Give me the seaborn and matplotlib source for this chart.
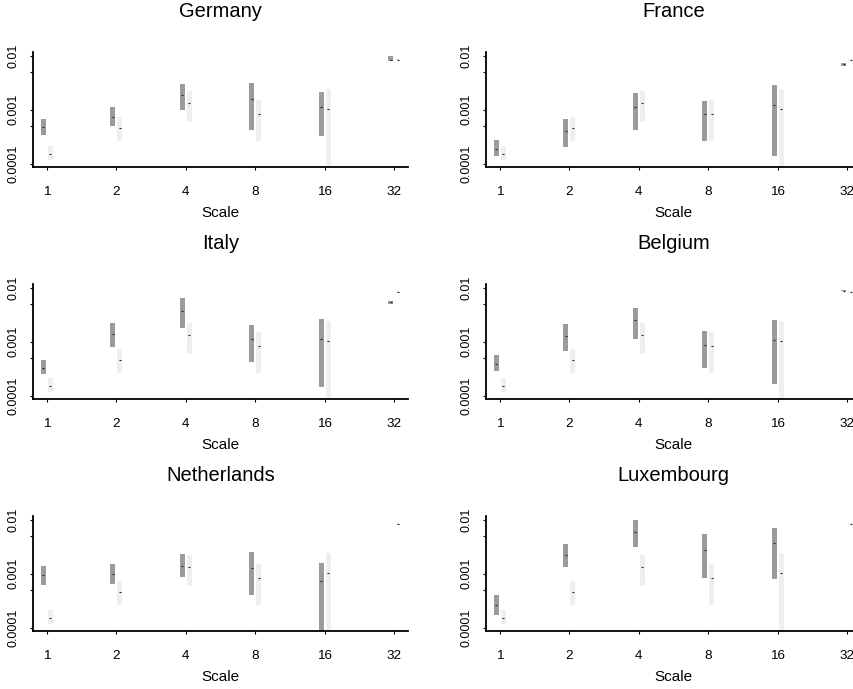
import numpy as np
import pandas as pd
import matplotlib
matplotlib.use("Agg")
import matplotlib.pyplot as plt
from matplotlib.ticker import FixedLocator, NullFormatter
import seaborn as sns

### data (log scale, per scale: low, high, middle)

scales = ["1", "2", "4", "8", "16", "32"]
countries = ["Germany", "France", "Italy", "Belgium", "Netherlands", "Luxembourg"]

germany_lo = [0.00034, 0.0005, 0.00099, 0.00043, 0.00033, 0.0080]
germany_hi = [0.00068, 0.00115, 0.0030, 0.0031, 0.0021, 0.0100]
germany_mid = [0.00047, 0.00075, 0.00186, 0.00161, 0.00111, 0.0086]

france_lo = [0.000137, 0.000204, 0.00043, 0.00026, 0.000139, 0.0066]
france_hi = [0.00027, 0.00067, 0.00208, 0.00148, 0.00285, 0.0073]
france_mid = [0.00019, 0.00041, 0.00115, 0.00082, 0.00125, 0.0070]

italy_lo = [0.00025, 0.0008, 0.00178, 0.00043, 0.000145, 0.0050]
italy_hi = [0.00045, 0.00227, 0.0066, 0.00206, 0.00269, 0.0058]
italy_mid = [0.00033, 0.0014, 0.0037, 0.00113, 0.00113, 0.0054]

belgium_lo = [0.00029, 0.00068, 0.00115, 0.00032, 0.000165, 0.0087]
belgium_hi = [0.00057, 0.00211, 0.0043, 0.00159, 0.00258, 0.0091]
belgium_mid = [0.00039, 0.00128, 0.00255, 0.00087, 0.00108, 0.0089]

netherlands_lo = [0.00062, 0.00065, 0.00087, 0.00041, 0.00007, np.nan]
netherlands_hi = [0.00138, 0.00151, 0.00231, 0.00252, 0.00157, np.nan]
netherlands_mid = [0.00093, 0.00098, 0.00142, 0.0013, 0.00075, np.nan]

luxembourg_lo = [0.00017, 0.00134, 0.0031, 0.00082, 0.00079, np.nan]
luxembourg_hi = [0.00041, 0.0036, 0.0100, 0.0056, 0.0071, np.nan]
luxembourg_mid = [0.000265, 0.00228, 0.0059, 0.0028, 0.0037, np.nan]

# light grey series is the same in every panel
bench_lo = [0.000118, 0.00026, 0.0006, 0.00026, 0.00007, 0.0084]
bench_hi = [0.000213, 0.00073, 0.0022, 0.0015, 0.0024, 0.0087]
bench_mid = [0.000153, 0.00045, 0.00132, 0.00082, 0.00105, 0.00855]

country_data = {
    "Germany": (germany_lo, germany_hi, germany_mid),
    "France": (france_lo, france_hi, france_mid),
    "Italy": (italy_lo, italy_hi, italy_mid),
    "Belgium": (belgium_lo, belgium_hi, belgium_mid),
    "Netherlands": (netherlands_lo, netherlands_hi, netherlands_mid),
    "Luxembourg": (luxembourg_lo, luxembourg_hi, luxembourg_mid),
}

### style

sns.set_theme(style="ticks")
plt.rcParams["font.family"] = ["Liberation Sans", "DejaVu Sans"]
for k in ["text.color", "axes.labelcolor", "xtick.color", "ytick.color"]:
    plt.rcParams[k] = "black"

W, H = 854, 689
fig = plt.figure(figsize=(W / 100, H / 100), dpi=100)

col_left = [33, 486]
row_top = [52, 284, 516]
ax_w, ax_h = 375, 115

pos = np.arange(len(scales))
off = 0.05
bw = 0.072

for i, name in enumerate(countries):
    r, c = divmod(i, 2)
    ax = fig.add_axes([col_left[c] / W, 1 - (row_top[r] + ax_h) / H, ax_w / W, ax_h / H])
    lo, hi, mid = (np.array(v, dtype=float) for v in country_data[name])
    blo, bhi, bmid = (np.array(v, dtype=float) for v in (bench_lo, bench_hi, bench_mid))

    ax.set_yscale("log")
    ax.bar(pos - off, hi - lo, bottom=lo, width=bw, color="#9b9b9b", linewidth=0)
    ax.bar(pos + off, bhi - blo, bottom=blo, width=bw, color="#efefef", linewidth=0)
    ax.plot(pos - off, mid, ls="none", marker="_", ms=1.5, mew=0.8, color="#222222")
    ax.plot(pos + off, bmid, ls="none", marker="_", ms=1.5, mew=0.8, color="#222222")

    ax.set_xlim(-0.195, 5.2)
    ax.set_ylim(10 ** -4.063, 10 ** -1.926)
    ax.set_xticks(pos)
    ax.set_xticklabels(scales)
    ax.yaxis.set_major_locator(FixedLocator([1e-4, 1e-3, 1e-2]))
    ax.set_yticklabels(["0.0001", "0.001", "0.01"])
    ax.yaxis.set_minor_locator(FixedLocator([5e-4, 5e-3]))
    ax.yaxis.set_minor_formatter(NullFormatter())
    plt.setp(ax.get_yticklabels(), rotation=90, va="center")

    ax.tick_params(axis="x", which="major", length=2.4, width=0.8, pad=11, labelsize=9.7)
    ax.tick_params(axis="y", which="both", length=2.4, width=0.8, pad=7, labelsize=9)
    for s in ["top", "right"]:
        ax.spines[s].set_visible(False)
    for s in ["left", "bottom"]:
        ax.spines[s].set_linewidth(1.3)
        ax.spines[s].set_color("black")

    ax.set_xlabel("Scale", fontsize=11, labelpad=6)
    ax.set_title(name, fontsize=14.5, pad=25)

fig.savefig("out.png", dpi=100)
